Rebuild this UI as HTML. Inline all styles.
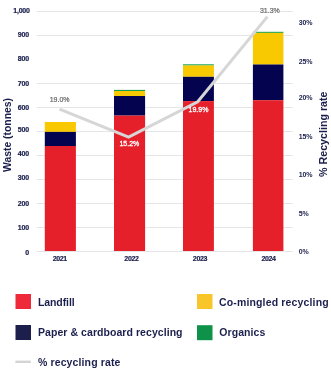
<!DOCTYPE html>
<html><head><meta charset="utf-8">
<style>
html,body{margin:0;padding:0;background:#fff;width:331px;height:380px;overflow:hidden}
svg{display:block;will-change:transform}
text{font-family:"Liberation Sans",sans-serif}
.ax{font-size:7px;font-weight:bold;fill:#1b1f4d;letter-spacing:-0.15px;stroke:#1b1f4d;stroke-width:0.2px}
.dl{font-size:7px;fill:#fff;stroke:#fff;stroke-width:1.4px;stroke-linejoin:round}
.dg{font-size:7px;fill:#686868;stroke:#686868;stroke-width:0.2px}
.dw{font-size:7px;fill:#fff;stroke:#fff;stroke-width:0.3px}
.tt{font-size:10.5px;font-weight:bold;fill:#1b1f4d}
</style></head>
<body>
<svg width="331" height="380" viewBox="0 0 331 380">
<g stroke="#e6e6e8" stroke-width="1">
<line x1="37" x2="293" y1="11.5" y2="11.5"/>
<line x1="37" x2="293" y1="35.5" y2="35.5"/>
<line x1="37" x2="293" y1="83.5" y2="83.5"/>
<line x1="37" x2="293" y1="107.5" y2="107.5"/>
<line x1="37" x2="293" y1="131.5" y2="131.5"/>
<line x1="37" x2="293" y1="155.5" y2="155.5"/>
<line x1="37" x2="293" y1="179.5" y2="179.5"/>
<line x1="37" x2="293" y1="203.5" y2="203.5"/>
<line x1="37" x2="293" y1="227.5" y2="227.5"/>
<line x1="37" x2="293" y1="251.5" y2="251.5"/>
</g>
<g class="ax" text-anchor="end">
<text x="29.6" y="13.05" style="letter-spacing:-0.25px">1,000</text>
<text x="29.1" y="37.0">900</text>
<text x="29.1" y="61.0">800</text>
<text x="29.1" y="85.8">700</text>
<text x="29.1" y="109.8">600</text>
<text x="29.1" y="131.8">500</text>
<text x="29.1" y="155.8">400</text>
<text x="29.1" y="179.8">300</text>
<text x="29.1" y="205.8">200</text>
<text x="29.1" y="229.8">100</text>
<text x="29.1" y="254.7">0</text>
</g>
<g class="ax" style="stroke-width:0">
<text x="298.8" y="25">30%</text>
<text x="298.8" y="64.2">25%</text>
<text x="298.8" y="100">20%</text>
<text x="298.8" y="139">15%</text>
<text x="298.8" y="177">10%</text>
<text x="298.8" y="216">5%</text>
<text x="298.8" y="254">0%</text>
</g>
<g class="ax" text-anchor="middle" style="letter-spacing:-0.35px">
<text x="59.75" y="260.9">2021</text>
<text x="131.45" y="260.9">2022</text>
<text x="199.95" y="260.9">2023</text>
<text x="268.5" y="260.9">2024</text>
</g>
<!-- bars -->
<g>
<rect x="44.8" y="122" width="31.1" height="9.9" fill="#f8c800"/>
<rect x="44.8" y="131.9" width="31.1" height="14.1" fill="#03034f"/>
<rect x="44.8" y="146" width="31.1" height="105" fill="#e6202b"/>

<rect x="114" y="89.9" width="31.1" height="1.1" fill="#13a04c"/>
<rect x="114" y="91" width="31.1" height="5" fill="#f8c800"/>
<rect x="114" y="96" width="31.1" height="19.6" fill="#03034f"/>
<rect x="114" y="115.6" width="31.1" height="135.4" fill="#e6202b"/>

<rect x="183" y="64.3" width="30.9" height="1.2" fill="#13a04c"/>
<rect x="183" y="65.5" width="30.9" height="11.3" fill="#f8c800"/>
<rect x="183" y="76.8" width="30.9" height="24.3" fill="#03034f"/>
<rect x="183" y="101.1" width="30.9" height="149.9" fill="#e6202b"/>

<rect x="252.9" y="31.8" width="30.5" height="1.1" fill="#13a04c"/>
<rect x="252.9" y="32.9" width="30.5" height="31.6" fill="#f8c800"/>
<rect x="252.9" y="64.5" width="30.5" height="35.7" fill="#03034f"/>
<rect x="252.9" y="100.2" width="30.5" height="150.8" fill="#e6202b"/>
</g>
<polyline points="59.5,109.2 128.6,137.1 197.7,101.8 267.4,16.6" fill="none" stroke="#d6d6d6" stroke-width="3" stroke-linejoin="miter"/>
<g text-anchor="middle">
<text class="dl" x="59.65" y="101.8">19.0%</text><text class="dg" x="59.65" y="101.8">19.0%</text>
<text class="dw" x="129.4" y="145.6">15.2%</text>
<text class="dw" x="198.5" y="111.8">19.9%</text>
<text class="dl" x="269.85" y="13.1">31.3%</text><text class="dg" x="269.85" y="13.1">31.3%</text>
</g>
<text class="tt" style="font-size:10.4px" transform="translate(11,172) rotate(-90)">Waste (tonnes)</text>
<text class="tt" style="font-size:10.7px" transform="translate(326.6,177) rotate(-90)">% Recycling rate</text>
<!-- legend -->
<rect x="15.5" y="294" width="15.5" height="15" fill="#ee2a3a"/>
<rect x="15.5" y="325" width="15.5" height="15" fill="#1c1f4b"/>
<rect x="197" y="294" width="15.5" height="15" fill="#f8c52a"/>
<rect x="197" y="325.2" width="15.5" height="15" fill="#0e9249"/>
<line x1="15.4" x2="30.8" y1="361.8" y2="361.8" stroke="#d4d4d4" stroke-width="2.4"/>
<g class="tt">
<text x="38" y="305.5" style="letter-spacing:-0.1px">Landfill</text>
<text x="38" y="336.3" style="letter-spacing:0.06px">Paper &amp; cardboard recycling</text>
<text x="38" y="366" style="letter-spacing:0.12px">% recycling rate</text>
<text x="219" y="306" style="letter-spacing:0.15px">Co-mingled recycling</text>
<text x="219.3" y="336.3" style="letter-spacing:0.07px">Organics</text>
</g>
</svg>
</body></html>
